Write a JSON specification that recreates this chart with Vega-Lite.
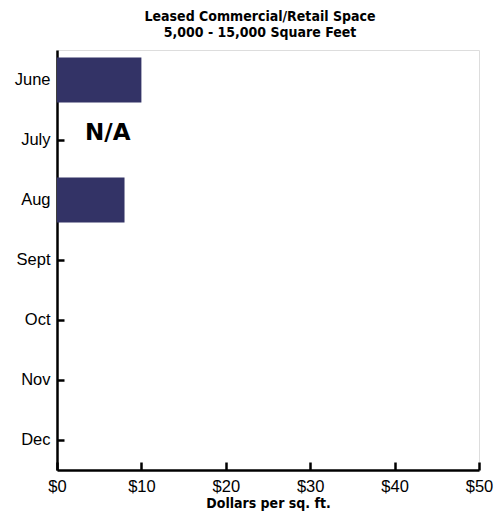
{
  "$schema": "https://vega.github.io/schema/vega-lite/v6.json",
  "autosize": "none",
  "width": 422,
  "height": 420,
  "padding": {"left": 57, "top": 50, "right": 23, "bottom": 43},
  "background": "white",
  "title": {
    "text": ["Leased Commercial/Retail Space", "5,000 - 15,000 Square Feet"],
    "font": "Liberation Sans Narrow, DejaVu Sans Condensed, Roboto Condensed, Liberation Sans, sans-serif",
    "fontSize": 14,
    "fontWeight": "bold",
    "color": "black",
    "lineHeight": 16,
    "anchor": "middle",
    "dx": -8,
    "offset": 10
  },
  "data": {
    "values": [
      {"month": "June", "value": 10, "label": ""},
      {"month": "July", "value": null, "label": "N/A"},
      {"month": "Aug", "value": 8, "label": ""},
      {"month": "Sept", "value": null, "label": ""},
      {"month": "Oct", "value": null, "label": ""},
      {"month": "Nov", "value": null, "label": ""},
      {"month": "Dec", "value": null, "label": ""}
    ]
  },
  "encoding": {
    "y": {
      "field": "month",
      "type": "nominal",
      "sort": ["June", "July", "Aug", "Sept", "Oct", "Nov", "Dec"],
      "scale": {"paddingInner": 0.25, "paddingOuter": 0.125},
      "axis": {
        "title": null,
        "domainColor": "black",
        "domainWidth": 2.5,
        "tickColor": "black",
        "tickWidth": 2.5,
        "tickSize": -7,
        "labelFont": "Liberation Sans",
        "labelFontSize": 16.5,
        "labelColor": "black",
        "labelPadding": 14
      }
    }
  },
  "layer": [
    {
      "mark": {"type": "bar", "color": "#333366"},
      "encoding": {
        "x": {
          "field": "value",
          "type": "quantitative",
          "scale": {"domain": [0, 50]},
          "axis": {
            "title": "Dollars per sq. ft.",
            "titleFont": "Liberation Sans Narrow, DejaVu Sans Condensed, Roboto Condensed, Liberation Sans, sans-serif",
            "titleFontSize": 14,
            "titleFontWeight": "bold",
            "titleColor": "black",
            "titlePadding": 2,
            "values": [0, 10, 20, 30, 40, 50],
            "format": "$d",
            "grid": false,
            "domainColor": "black",
            "domainWidth": 2.5,
            "tickColor": "black",
            "tickWidth": 2.5,
            "tickSize": -8,
            "labelFont": "Liberation Sans",
            "labelFontSize": 16.5,
            "labelColor": "black",
            "labelPadding": 16,
            "labelFlush": false
          }
        }
      }
    },
    {
      "mark": {"type": "text", "align": "left", "baseline": "alphabetic", "font": "DejaVu Sans", "fontWeight": "bold", "fontSize": 23, "color": "black", "dx": 28},
      "encoding": {
        "x": {"datum": 0},
        "text": {"field": "label"}
      }
    }
  ]
}
